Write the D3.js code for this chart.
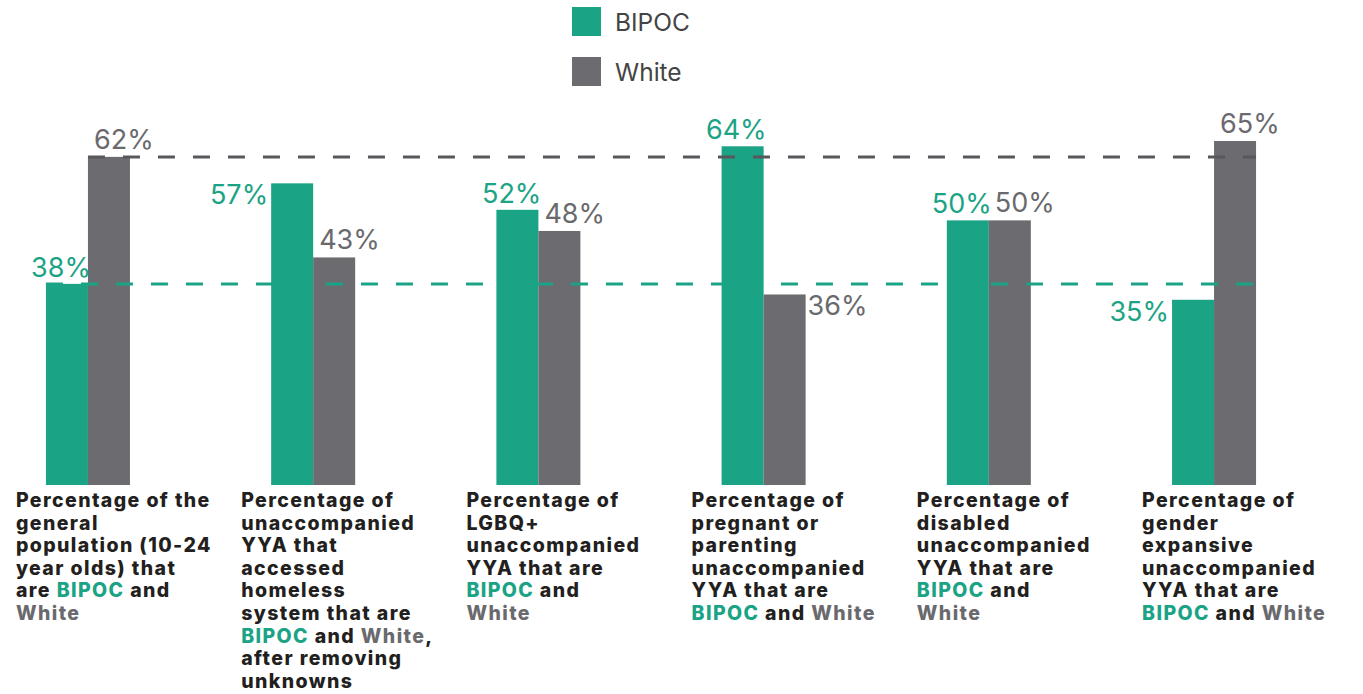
<!DOCTYPE html>
<html>
<head>
<meta charset="utf-8">
<script src="https://cdn.jsdelivr.net/npm/d3@7"></script>
<style>
    body { margin: 0; background: #fff; }
    svg { display: block; font-family: Inter, "Noto Sans", sans-serif; }
    .cat-label { font-weight: 800; font-size: 19.5px; fill: #231f20; letter-spacing: 1.4px; }
    .value { font-size: 27px; font-weight: 400; }
    .legend text { font-size: 24.5px; fill: #444; }
</style>
</head>
<body>
<svg class="chart"></svg>
<script>

// Data
const categories = ["general", "homeless", "lgbq", "parenting", "disabled", "gender"];
const series = ["BIPOC", "White"];
const bipoc = [38, 57, 52, 64, 50, 35];
const white = [62, 43, 48, 36, 50, 65];

// Where each value label sits relative to its bar
const bipocLabelSide = ["top", "left", "top", "top", "top", "left"];
const whiteLabelSide = ["top", "top", "top", "right", "top", "top"];

// Category labels, {B} = BIPOC, {W} = White
const categoryLines = [
    ["Percentage of the", "general", "population (10-24", "year olds) that", "are {B} and", "{W}"],
    ["Percentage of", "unaccompanied", "YYA that", "accessed", "homeless", "system that are", "{B} and {W},", "after removing", "unknowns"],
    ["Percentage of", "LGBQ+", "unaccompanied", "YYA that are", "{B} and", "{W}"],
    ["Percentage of", "pregnant or", "parenting", "unaccompanied", "YYA that are", "{B} and {W}"],
    ["Percentage of", "disabled", "unaccompanied", "YYA that are", "{B} and", "{W}"],
    ["Percentage of", "gender", "expansive", "unaccompanied", "YYA that are", "{B} and {W}"]
];

const colors = { BIPOC: "#1ba385", White: "#6b6b70" };
const textColors = { BIPOC: "#1ba385", White: "#6a6a6e" };

const chart = {
    width: 1363,
    height: 694,
    baseline: 485,
    line_height: 22.6,
};

const svg = d3.select("svg.chart")
    .attr("width", chart.width)
    .attr("height", chart.height);

const x = d3.scaleBand()
    .domain(categories)
    .range([0, 1302])
    .paddingInner(0.627)
    .paddingOuter(0.204);

const xs = d3.scaleBand()
    .domain(series)
    .range([0, x.bandwidth()]);

const y = d3.scaleLinear()
    .domain([0, 65])
    .range([chart.baseline, chart.baseline - 344]);

let rows = categories.map((c, i) => ({ cat: c, i: i, BIPOC: bipoc[i], White: white[i] }));

// Bars
let groups = svg.append("g").attr("class", "bars")
    .selectAll("g")
    .data(rows)
    .enter().append("g")
        .attr("transform", (d) => "translate(" + x(d.cat) + ",0)");

groups.selectAll("rect")
    .data((d) => series.map((s) => ({ key: s, value: d[s] })))
    .enter().append("rect")
        .attr("x", (d) => xs(d.key))
        .attr("y", (d) => y(d.value))
        .attr("width", xs.bandwidth())
        .attr("height", (d) => y(0) - y(d.value))
        .attr("fill", (d) => colors[d.key]);

// Reference lines at the general population shares
const lastRight = x(categories[categories.length - 1]) + x.bandwidth();
svg.append("line")
    .attr("x1", x(categories[0]) + xs("White"))
    .attr("x2", lastRight)
    .attr("y1", y(white[0]))
    .attr("y2", y(white[0]))
    .attr("stroke", "#58585c")
    .attr("stroke-width", 3)
    .attr("stroke-dasharray", "17 18");

svg.append("line")
    .attr("x1", x(categories[0]))
    .attr("x2", lastRight)
    .attr("y1", y(bipoc[0]))
    .attr("y2", y(bipoc[0]))
    .attr("stroke", colors.BIPOC)
    .attr("stroke-width", 3)
    .attr("stroke-dasharray", "17 18");

// Value labels
let values = svg.append("g").attr("class", "values");

values.selectAll("text.bipoc")
    .data(rows)
    .enter().append("text")
        .attr("class", "value bipoc")
        .attr("fill", textColors.BIPOC)
        .attr("text-anchor", "end")
        .attr("x", function(d) {
            let left = x(d.cat) + xs("BIPOC");
            return bipocLabelSide[d.i] == "left" ? left - 3 : left + xs.bandwidth() + 3;
        })
        .attr("y", function(d) {
            return bipocLabelSide[d.i] == "left" ? y(d.BIPOC) + 21 : y(d.BIPOC) - 7;
        })
        .text((d) => d.BIPOC + "%");

values.selectAll("text.white")
    .data(rows)
    .enter().append("text")
        .attr("class", "value white")
        .attr("fill", textColors.White)
        .attr("text-anchor", "start")
        .attr("x", function(d) {
            let left = x(d.cat) + xs("White");
            return whiteLabelSide[d.i] == "right" ? left + xs.bandwidth() + 2 : left + 6;
        })
        .attr("y", function(d) {
            return whiteLabelSide[d.i] == "right" ? y(d.White) + 21 : y(d.White) - 8;
        })
        .text((d) => d.White + "%");

// Category labels below the bars
let labels = svg.append("g").attr("class", "cat-labels")
    .selectAll("text")
    .data(rows)
    .enter().append("text")
        .attr("class", "cat-label")
        .attr("x", (d) => x(d.cat) - 30)
        .attr("y", chart.baseline + 22);

labels.each(function(d) {
    let t = d3.select(this);
    let left = x(d.cat) - 30;
    categoryLines[d.i].forEach(function(line, li) {
        // split line into plain text and coloured keywords
        let parts = line.split(/(\{B\}|\{W\})/).filter((p) => p.length);
        parts.forEach(function(p, pi) {
            let span = t.append("tspan");
            if (pi == 0) span.attr("x", left).attr("dy", li == 0 ? 0 : chart.line_height);
            if (p == "{B}") span.attr("fill", textColors.BIPOC).text("BIPOC");
            else if (p == "{W}") span.attr("fill", textColors.White).text("White");
            else span.text(p);
        });
    });
});

// Legend
let legend = svg.append("g").attr("class", "legend")
    .selectAll("g")
    .data(series)
    .enter().append("g")
        .attr("transform", (d, i) => "translate(572," + (7 + i * 50) + ")");

legend.append("rect")
    .attr("width", 29)
    .attr("height", 29)
    .attr("fill", (d) => colors[d]);

legend.append("text")
    .attr("x", 43)
    .attr("y", 23.5)
    .text((d) => d);

</script>
</body>
</html>
